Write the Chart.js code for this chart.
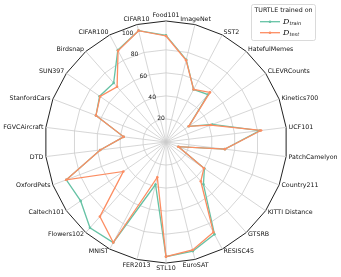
<!DOCTYPE html>
<html>
<head>
<meta charset="utf-8">
<script src="https://cdn.jsdelivr.net/npm/chart.js@4"></script>
<style>
    body { margin: 0; background: #fff; }
    canvas { display: block; }
</style>
</head>
<body>
<canvas id="radar" width="341" height="277"></canvas>
<script>
// Datasets, clockwise from the top
const categories = ['Food101', 'ImageNet', 'SST2', 'HatefulMemes', 'CLEVRCounts', 'Kinetics700',
    'UCF101', 'PatchCamelyon', 'Country211', 'KITTI Distance', 'GTSRB', 'RESISC45', 'EuroSAT',
    'STL10', 'FER2013', 'MNIST', 'Flowers102', 'Caltech101', 'OxfordPets', 'DTD', 'FGVCAircraft',
    'StanfordCars', 'SUN397', 'Birdsnap', 'CIFAR100', 'CIFAR10'];
const trainAcc = [92.5, 73.5, 51.5, 55, 24, 43, 82, 51.5, 11.5, 40.5, 49, 90.5, 97.5,
    99.5, 38, 98.5, 99.5, 90, 92.5, 57.5, 37, 65, 70, 68.5, 90, 99.5];
const testAcc = [92, 73, 51.5, 57.5, 24, 41.5, 83, 51.5, 11.5, 40, 45.5, 88.5, 96.5,
    99.5, 31.5, 98.5, 86.5, 45, 92.5, 57.5, 37, 65, 69.5, 64, 89.5, 99.5];
const radialTicks = [20, 40, 60, 80, 100];
const radialMax = 105;
const legendTitle = 'TURTLE trained on';
const legendSubs = ['train', 'test'];

const GREEN = '#66c2a5';
const ORANGE = '#fc8d62';
const FONT = '"DejaVu Sans", sans-serif';

// Category labels outside the frame, matplotlib-like alignment
const pointLabelPlugin = {
    id: 'pointLabelPlugin',
    afterDraw(chart) {
        const scale = chart.scales.r;
        const ctx = chart.ctx;
        ctx.save();
        ctx.font = '6.3px ' + FONT;
        ctx.fillStyle = '#111';
        categories.forEach((name, i) => {
            const deg = scale.getIndexAngle(i) * 180 / Math.PI;
            const pos = scale.getPointPosition(i, scale.drawingArea + 2.5);
            if (deg < 20 || deg > 340) {
                ctx.textAlign = 'center';
                ctx.textBaseline = 'bottom';
            } else if (deg > 160 && deg < 200) {
                ctx.textAlign = 'center';
                ctx.textBaseline = 'top';
            } else {
                ctx.textAlign = deg < 180 ? 'left' : 'right';
                ctx.textBaseline = 'middle';
            }
            ctx.fillText(name, pos.x, pos.y);
        });

        // radial tick labels along the 22.5 deg line, left of top
        const a = 22.5 * Math.PI / 180;
        ctx.font = '6px ' + FONT;
        ctx.textAlign = 'left';
        ctx.textBaseline = 'bottom';
        radialTicks.forEach(v => {
            const r = scale.getDistanceFromCenterForValue(v);
            ctx.fillText(String(v), scale.xCenter - r * Math.sin(a), scale.yCenter - r * Math.cos(a) + 1);
        });
        ctx.restore();
    }
};

// Legend box in the top right corner
const legendPlugin = {
    id: 'legendPlugin',
    afterDraw(chart) {
        const ctx = chart.ctx;
        const x0 = 251, y0 = 4, w = 64, h = 36;
        ctx.save();
        ctx.fillStyle = 'rgba(255,255,255,0.85)';
        ctx.strokeStyle = '#d0d0d0';
        ctx.lineWidth = 0.8;
        ctx.beginPath();
        ctx.roundRect(x0 + 0.5, y0 + 0.5, w, h, 2);
        ctx.fill();
        ctx.stroke();

        ctx.fillStyle = '#111';
        ctx.font = '6.3px ' + FONT;
        ctx.textAlign = 'center';
        ctx.textBaseline = 'middle';
        ctx.fillText(legendTitle, x0 + w / 2 + 0.5, y0 + 6.5);

        [GREEN, ORANGE].forEach((col, k) => {
            const y = y0 + 17.7 + k * 11;
            ctx.strokeStyle = col;
            ctx.lineWidth = 1.3;
            ctx.beginPath();
            ctx.moveTo(x0 + 9, y);
            ctx.lineTo(x0 + 29, y);
            ctx.stroke();
            ctx.fillStyle = col;
            ctx.beginPath();
            ctx.arc(x0 + 19, y, 1.3, 0, Math.PI * 2);
            ctx.fill();

            ctx.fillStyle = '#111';
            ctx.textAlign = 'left';
            ctx.textBaseline = 'middle';
            ctx.font = 'italic 8px "DejaVu Serif", serif';
            ctx.fillText('D', x0 + 32, y);
            ctx.font = 'italic 5px "DejaVu Sans", sans-serif';
            ctx.fillText(legendSubs[k], x0 + 38.5, y + 2);
        });
        ctx.restore();
    }
};

const ctx = document.getElementById('radar').getContext('2d');
new Chart(ctx, {
    type: 'radar',
    data: {
        labels: categories,
        datasets: [{
            label: 'train',
            data: trainAcc,
            borderColor: GREEN,
            backgroundColor: GREEN,
            borderWidth: 1.3,
            pointRadius: 1.3,
            pointBorderWidth: 0,
            fill: false,
            order: 1
        }, {
            label: 'test',
            data: testAcc,
            borderColor: ORANGE,
            backgroundColor: ORANGE,
            borderWidth: 1.3,
            pointRadius: 1.3,
            pointBorderWidth: 0,
            fill: false,
            order: 0
        }]
    },
    options: {
        responsive: false,
        devicePixelRatio: 1,
        animation: false,
        layout: { padding: { left: 45, right: 54, top: 21, bottom: 14 } },
        plugins: {
            legend: { display: false },
            tooltip: { enabled: false }
        },
        scales: {
            r: {
                min: 0,
                max: radialMax,
                ticks: { display: false, stepSize: 20 },
                pointLabels: { display: false },
                grid: {
                    color: c => (c.tick && c.tick.value === radialMax) ? '#222' : '#cccccc',
                    lineWidth: c => (c.tick && c.tick.value === radialMax) ? 1 : 0.8
                },
                angleLines: { color: '#cccccc', lineWidth: 0.8 }
            }
        }
    },
    plugins: [pointLabelPlugin, legendPlugin]
});
</script>
</body>
</html>
